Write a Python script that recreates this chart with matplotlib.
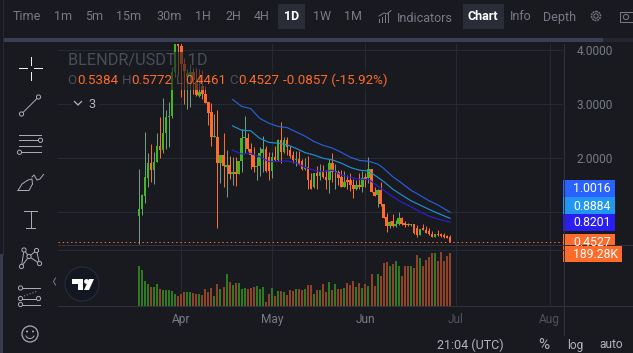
import matplotlib
matplotlib.use('Agg')
import numpy as np
import matplotlib.pyplot as plt
from matplotlib.patches import Rectangle, Circle, Polygon, Arc

W, H = 633, 353
plt.rcParams['font.family'] = ['Roboto', 'DejaVu Sans']

# OHLC by day, day 0 is 18 Mar
opens = [0.94, 1.06, 1.31, 1.64, 1.91, 1.78, 1.94, 2.23, 2.15, 2.46,
         2.76, 2.78, 3.6, 4.3, 4.08, 3.75, 3.5, 3.52, 3.6, 3.42,
         3.16, 3.33, 3.19, 3.05, 2.86, 2.4, 2.4, 1.91, 2.06, 1.83,
         1.87, 1.71, 1.74, 1.71, 1.95, 2.37, 2.37, 2.18, 2.06, 1.83,
         1.86, 2.09, 2.17, 2.03, 1.77, 2.03, 1.97, 2.34, 2.12, 2.34,
         2.15, 2.06, 1.97, 1.99, 1.95, 1.81, 1.84, 1.6, 1.46, 1.72,
         1.67, 1.74, 1.65, 1.6, 1.91, 1.74, 1.75, 1.65, 1.47, 1.59,
         1.59, 1.51, 1.44, 1.5, 1.47, 1.65, 1.63, 1.8, 1.38, 1.32,
         1.41, 1.15, 0.92, 0.74, 0.83, 0.75, 0.78, 0.89, 0.8, 0.78,
         0.77, 0.78, 0.7, 0.58, 0.7, 0.68, 0.66, 0.6, 0.55, 0.6,
         0.6, 0.58, 0.56, 0.5384]
closes = [1.07, 1.32, 1.65, 1.91, 1.78, 1.94, 2.23, 2.15, 2.46, 2.76,
          2.78, 3.6, 4.3, 4.08, 3.75, 3.62, 3.58, 3.6, 3.45, 3.18,
          3.23, 3.19, 3.03, 2.83, 2.4, 2.41, 1.91, 2.06, 1.85, 1.87,
          1.71, 1.74, 1.71, 1.95, 2.37, 2.38, 2.18, 2.06, 1.83, 1.86,
          2.09, 2.17, 1.77, 1.77, 2.03, 1.97, 2.34, 2.12, 2.34, 2.2,
          2.05, 1.96, 1.99, 1.89, 1.8, 1.84, 1.59, 1.44, 1.72, 1.67,
          1.74, 1.65, 1.6, 1.91, 1.75, 1.76, 1.63, 1.47, 1.57, 1.56,
          1.51, 1.44, 1.5, 1.47, 1.63, 1.62, 1.8, 1.38, 1.31, 1.41,
          1.15, 0.9, 0.74, 0.82, 0.75, 0.78, 0.89, 0.78, 0.76, 0.76,
          0.78, 0.61, 0.58, 0.69, 0.68, 0.62, 0.59, 0.55, 0.6, 0.58,
          0.56, 0.54, 0.53, 0.4527]
highs = [1.81, 1.33, 2.49, 2.09, 2.26, 2.12, 2.46, 2.76, 3.11, 2.9,
         3.05, 3.7, 4.4, 4.4, 4.15, 3.85, 3.66, 3.75, 3.67, 3.67,
         3.65, 3.63, 3.33, 3.05, 3.02, 2.82, 2.89, 2.07, 2.47, 2.15,
         2.04, 2.03, 2.03, 1.95, 2.55, 2.78, 2.46, 2.28, 2.2, 2.03,
         2.2, 2.41, 2.23, 2.12, 2.12, 2.22, 2.35, 2.67, 2.4, 2.39,
         2.22, 2.14, 2.13, 2.13, 1.98, 2.0, 2.04, 1.72, 1.73, 1.86,
         1.9, 1.87, 1.78, 1.98, 2.09, 1.9, 1.78, 1.78, 1.77, 1.69,
         1.72, 1.61, 1.6, 1.72, 1.77, 1.72, 2.03, 1.8, 1.46, 1.44,
         1.57, 1.16, 0.98, 0.83, 0.97, 0.86, 1.0, 0.92, 0.84, 0.81,
         0.79, 0.79, 0.77, 0.69, 0.78, 0.75, 0.7, 0.66, 0.6, 0.68,
         0.61, 0.61, 0.58, 0.5772]
lows = [0.41, 0.95, 1.17, 1.47, 1.56, 1.52, 1.93, 2.0, 2.1, 2.18,
        2.2, 2.75, 3.5, 3.55, 3.14, 3.0, 2.92, 2.95, 3.2, 3.16,
        3.13, 3.1, 3.02, 2.62, 2.23, 2.39, 0.715, 1.54, 1.47, 1.29,
        1.62, 1.5, 1.49, 1.7, 1.75, 2.1, 2.14, 1.8, 1.75, 1.6,
        1.68, 1.75, 1.75, 1.59, 1.64, 1.95, 1.95, 1.92, 2.1, 2.06,
        2.0, 1.92, 1.85, 1.88, 1.78, 1.78, 1.44, 1.43, 1.45, 1.44,
        1.6, 1.63, 1.44, 1.36, 1.57, 1.44, 1.5, 1.47, 1.46, 1.44,
        1.4, 1.27, 1.41, 1.44, 1.38, 1.47, 1.54, 1.37, 1.3, 1.1,
        1.12, 0.89, 0.64, 0.7, 0.73, 0.73, 0.77, 0.77, 0.72, 0.75,
        0.75, 0.6, 0.55, 0.58, 0.67, 0.61, 0.57, 0.54, 0.54, 0.56,
        0.55, 0.53, 0.52, 0.4461]
volumes = [143, 129, 89, 79, 68, 68, 79, 61, 57, 57,
           57, 54, 43, 36, 43, 50, 50, 50, 46, 43,
           43, 39, 61, 50, 64, 36, 79, 61, 68, 114,
           86, 75, 82, 82, 61, 64, 61, 64, 68, 71,
           61, 68, 14, 43, 64, 36, 54, 54, 50, 39,
           57, 54, 61, 61, 57, 61, 75, 75, 43, 57,
           57, 79, 50, 86, 57, 79, 61, 61, 64, 82,
           75, 89, 68, 82, 64, 79, 71, 114, 71, 114,
           107, 154, 157, 143, 150, 161, 143, 107, 143, 143,
           143, 136, 182, 171, 143, 164, 175, 189, 189, 161,
           193, 161, 178, 189.28]

# moving averages, read every few days
ma_days = [31, 34, 37, 40, 43, 46, 49, 52, 55, 58, 61, 64, 67, 70, 73, 76, 79, 81, 84, 87, 90, 93, 96, 99, 103]
ma_top = [3.09, 2.96, 2.92, 2.74, 2.65, 2.59, 2.57, 2.49, 2.41, 2.31, 2.24, 2.19, 2.11, 2.02, 1.96, 1.945,
          1.895, 1.815, 1.66, 1.54, 1.41, 1.315, 1.215, 1.135, 1.0016]
ma_mid = [2.6, 2.52, 2.51, 2.37, 2.295, 2.28, 2.25, 2.185, 2.105, 2.06, 2.0, 1.97, 1.91, 1.83, 1.78, 1.765,
          1.65, 1.57, 1.43, 1.32, 1.215, 1.135, 1.055, 0.98, 0.8884]
ma_low = [2.15, 2.08, 2.09, 2.03, 1.94, 1.94, 1.95, 1.92, 1.83, 1.78, 1.75, 1.78, 1.69, 1.65, 1.61, 1.61,
          1.49, 1.41, 1.29, 1.185, 1.105, 1.01, 0.93, 0.875, 0.8201]

# the 1.0 label sits behind the price tags in the picture
price_ticks = [1, 2, 3, 4]
price_labels = ['', '2.0000', '3.0000', '4.0000']
month_days = [14, 44, 75, 105, 136]
month_labels = ['Apr', 'May', 'Jun', 'Jul', 'Aug']
periods = ['Time', '1m', '5m', '15m', '30m', '1H', '2H', '4H', '1D', '1W', '1M']
period_x = [27, 63, 94, 129, 169, 203, 233, 262, 292, 322, 353]

BG = '#181a20'
GRID = '#262a35'
GREEN = '#40b91f'
ORANGE = '#ff6b2b'
GREEN_WICK = '#6f9c80'
GREEN_VOL = '#2f7a1e'
ORANGE_VOL = '#8f4226'
TEXT = '#787b86'
PX = 0.72  # one pixel in points


def px_axes(fig, left, top, right, bottom, **kw):
    return fig.add_axes([left / W, 1 - bottom / H, (right - left) / W, (bottom - top) / H], **kw)


fig = plt.figure(figsize=(W / 100, H / 100), dpi=100, facecolor=BG)

ax = px_axes(fig, 58, 44, 563, 245, facecolor=BG)
ax_vol = px_axes(fig, 58, 245, 563, 306, facecolor=BG)
over = fig.add_axes([0, 0, 1, 1], facecolor='none', zorder=5)
over.set_xlim(0, W)
over.set_ylim(H, 0)
over.axis('off')

days = np.arange(len(opens))
opens_a = np.array(opens)
closes_a = np.array(closes)
up = closes_a >= opens_a

# price pane
ax.set_xlim(-26.8, 140.4)
ax.set_ylim(0.394, 4.117)
ax.set_xticks(month_days)
ax.set_xticklabels([])
ax.set_yticks(price_ticks)
ax.set_yticklabels(price_labels, color=TEXT, fontsize=8.6)
ax.yaxis.tick_right()
ax.tick_params(length=0, pad=10)
ax.grid(True, color=GRID, lw=PX)
ax.set_axisbelow(True)
for s in ax.spines.values():
    s.set_visible(False)

colors = [GREEN if u else ORANGE for u in up]
wick_colors = [GREEN_WICK if u else ORANGE for u in up]
ax.vlines(days, lows, highs, colors=wick_colors, lw=PX, zorder=2)
ax.bar(days, np.maximum(np.abs(closes_a - opens_a), 0.02), bottom=np.minimum(opens_a, closes_a),
       width=0.85, color=colors, lw=0, zorder=3)

ax.plot(ma_days, ma_top, color='#2a5fd8', lw=0.85, zorder=4)
ax.plot(ma_days, ma_mid, color='#2190d0', lw=0.85, zorder=4)
ax.plot(ma_days, ma_low, color='#2a1fd8', lw=0.85, zorder=4)
# small nudge so the dots land on one pixel row
ax.axhline(closes[-1] - 0.012, color=ORANGE, lw=PX, ls=(0, (1.4, 2.8)), zorder=4)

# volume pane
ax_vol.set_xlim(-26.8, 140.4)
ax_vol.set_ylim(0, 217.9)
ax_vol.bar(days, volumes, width=0.66, color=[GREEN_VOL if u else ORANGE_VOL for u in up], lw=0, zorder=3)
ax_vol.set_yticks([])
ax_vol.set_xticks(month_days)
ax_vol.set_xticklabels(month_labels, color=TEXT, fontsize=8.6)
ax_vol.get_xticklabels()[3].set_color('#50535e')
ax_vol.get_xticklabels()[4].set_color('#50535e')
ax_vol.tick_params(length=0, pad=5)
ax_vol.grid(True, axis='x', color=GRID, lw=PX)
ax_vol.set_axisbelow(True)
for s in ax_vol.spines.values():
    s.set_visible(False)

# chrome, in pixels
over.add_patch(Rectangle((3, 38), 600, 4, color='#3a3f55', lw=0))
over.add_patch(Rectangle((603, 38), 30, 4, color='#23262f', lw=0))
over.plot([2.5, 2.5], [0, 255], color='#262a35', lw=PX)
over.plot([1, 1], [255, H], color='#3a3f55', lw=2)
over.plot([58, W], [245, 245], color='#30333d', lw=PX)
over.plot([58, 563], [250, 250], color=GRID, lw=PX)
over.plot([58, W], [306, 306], color='#30333d', lw=PX)
over.plot([563.5, 563.5], [44, 335], color='#30333d', lw=PX)

# toolbar
over.add_patch(Rectangle((278, 4), 27, 25, color='#2a2d37', lw=0))
over.add_patch(Rectangle((463, 4), 41, 25, color='#2a2d37', lw=0))
for name, x in zip(periods, period_x):
    over.text(x, 17, name, color='#ffffff' if name == '1D' else TEXT, fontsize=9, ha='center', va='center',
              fontweight='bold' if name == '1D' else 'normal')
over.text(425, 18, 'Indicators', color=TEXT, fontsize=9, ha='center', va='center')
over.text(483, 17, 'Chart', color='#ffffff', fontsize=9, ha='center', va='center', fontweight='bold')
over.text(521, 17, 'Info', color=TEXT, fontsize=9, ha='center', va='center')
over.text(560, 17, 'Depth', color=TEXT, fontsize=9, ha='center', va='center')
for i, h in enumerate([3, 5, 7, 9]):
    over.plot([379 + i * 3, 379 + i * 3], [22, 22 - h], color=TEXT, lw=PX)
over.plot([379, 384, 387, 391], [16, 13, 14, 10.5], color=TEXT, lw=PX)
over.add_patch(Circle((596, 16), 4.5, fc='none', ec=TEXT, lw=1.1, ls=(0, (1.2, 0.6))))
over.add_patch(Circle((596, 16), 2.2, fc='none', ec=TEXT, lw=PX))
over.add_patch(Rectangle((620, 12), 13, 10, fc='none', ec=TEXT, lw=PX))
over.add_patch(Circle((626, 17), 2.6, fc='none', ec=TEXT, lw=PX))

# legend, dims what is under it
over.add_patch(Rectangle((64, 52), 141, 18, color=BG, alpha=0.6, lw=0))
over.add_patch(Rectangle((64, 70), 328, 20, color=BG, alpha=0.6, lw=0))
over.add_patch(Rectangle((72, 96), 27, 16, color=BG, lw=0))
over.text(68, 60.5, 'BLENDR/USDT · 1D', color='#4a4e5a', fontsize=11.7, va='center')
for s, x, c in [('O', 67, '#4a4e5a'), ('0.5384', 77, ORANGE), ('H', 122, '#4a4e5a'), ('0.5772', 131, ORANGE),
                ('L', 176, '#4a4e5a'), ('0.4461', 185, ORANGE), ('C', 229, '#4a4e5a'), ('0.4527', 238, ORANGE),
                ('-0.0857 (-15.92%)', 283, ORANGE)]:
    over.text(x, 80.5, s, color=c, fontsize=9.6, va='center')
over.plot([74.5, 78, 81.5], [101.5, 105, 101.5], color='#b2b5be', lw=0.9)
over.text(88, 104, '3', color='#b2b5be', fontsize=9.2, va='center')

# price tags
for s, top, bot, c in [('1.0016', 180, 197, '#2962ff'), ('0.8884', 197, 214, '#2196f3'), ('0.8201', 214, 231, '#2a1ff0')]:
    over.add_patch(Rectangle((563, top), 52, bot - top, color=c, lw=0))
    over.text(573, (top + bot) / 2 + 0.5, s, color='#ffffff', fontsize=8.8, va='center')
over.add_patch(Rectangle((563, 234), 52, 12, color=ORANGE, lw=0))
tag = over.text(573, 242.5, '0.4527', color='#ffffff', fontsize=8.8, va='center')
tag.set_clip_path(Rectangle((563, 234), 52, 12, transform=over.transData))
over.add_patch(Rectangle((563, 246), 59, 16, color=ORANGE, lw=0))
over.text(573, 254.5, '189.28K', color='#ffffff', fontsize=8.8, va='center')

# bottom bar
over.text(470, 345, '21:04 (UTC)', color='#b2b5be', fontsize=9, ha='center', va='center')
over.text(544, 345, '%', color='#b2b5be', fontsize=11, ha='center', va='center')
over.text(575, 345, 'log', color='#b2b5be', fontsize=8.6, ha='center', va='center')
over.text(611, 345, 'auto', color='#b2b5be', fontsize=8.6, ha='center', va='center')

# side tools
ICON = '#a8abb3'
over.plot([19, 27], [68, 68], color='#f0f0f0', lw=PX)
over.plot([34, 42], [68, 68], color='#f0f0f0', lw=PX)
over.plot([30.5, 30.5], [57, 65], color='#f0f0f0', lw=PX)
over.plot([30.5, 30.5], [72, 80], color='#f0f0f0', lw=PX)


def node(x, y, r=2.1):
    over.add_patch(Circle((x, y), r, fc=BG, ec=ICON, lw=PX, zorder=6))


over.plot([21.5, 38.5], [114, 97], color=ICON, lw=PX)
node(21.5, 114)
node(38.5, 97)

for y in [135, 140.3, 146.3, 152.3]:
    over.plot([19, 41], [y, y], color=ICON, lw=PX)
node(40.5, 140.3)
node(19.5, 152.3)

# brush
over.plot([18, 29, 32.5], [190.5, 190.5, 184], color=ICON, lw=PX)
over.plot([18, 22, 28, 32, 32.5], [190.5, 184, 180, 179, 184], color=ICON, lw=PX)
over.plot([32, 34, 37, 40, 43.5], [177, 175, 180, 179, 174.5], color=ICON, lw=PX)

over.plot([24, 37], [211, 211], color=ICON, lw=PX)
over.plot([30.5, 30.5], [211, 228], color=ICON, lw=PX)
over.plot([26, 35], [228, 228], color=ICON, lw=PX)

pat = [(21.5, 266.5), (24, 250), (29, 256.5), (36.5, 250.5), (39.5, 263.5)]
over.plot([p[0] for p in pat], [p[1] for p in pat], color=ICON, lw=PX)
over.plot([21.5, 29], [266.5, 256.5], color=ICON, lw=PX)
over.plot([29, 39.5], [256.5, 263.5], color=ICON, lw=PX)
for p in pat:
    node(p[0], p[1])

over.plot([20, 40], [288, 288], color=ICON, lw=PX)
over.plot([21, 39], [298.5, 298.5], color=ICON, lw=PX)
over.plot([21, 40], [304.5, 304.5], color=ICON, lw=PX)
over.plot([24, 38], [296, 291], color=ICON, lw=PX, ls=(0, (1, 2)))
node(20.5, 288)
node(20.5, 298.5)
node(38.5, 298.5)
node(20.5, 304.5)

over.add_patch(Circle((30, 334), 8, fc='none', ec=ICON, lw=0.9))
over.add_patch(Arc((30, 334), 9, 9, theta1=20, theta2=160, ec=ICON, lw=PX))
over.add_patch(Circle((27, 331.5), 1, color=ICON, lw=0))
over.add_patch(Circle((33, 331.5), 1, color=ICON, lw=0))

over.plot([55.5, 53.5, 55.5], [278, 281.5, 285], color='#787b86', lw=PX)

# tradingview badge
over.add_patch(Circle((82, 284), 17, fc='#131722', ec='#2a2e39', lw=PX))
over.add_patch(Polygon([(72, 279), (83, 279), (83, 290), (78, 290), (78, 284), (72, 284)], color='#ffffff', lw=0))
over.add_patch(Circle((86.5, 281.5), 2.4, color='#ffffff', lw=0))
over.add_patch(Polygon([(89, 290), (84, 290), (89, 279), (94, 279)], color='#ffffff', lw=0))

plt.savefig('out.png', dpi=100, facecolor=BG)
plt.close()
